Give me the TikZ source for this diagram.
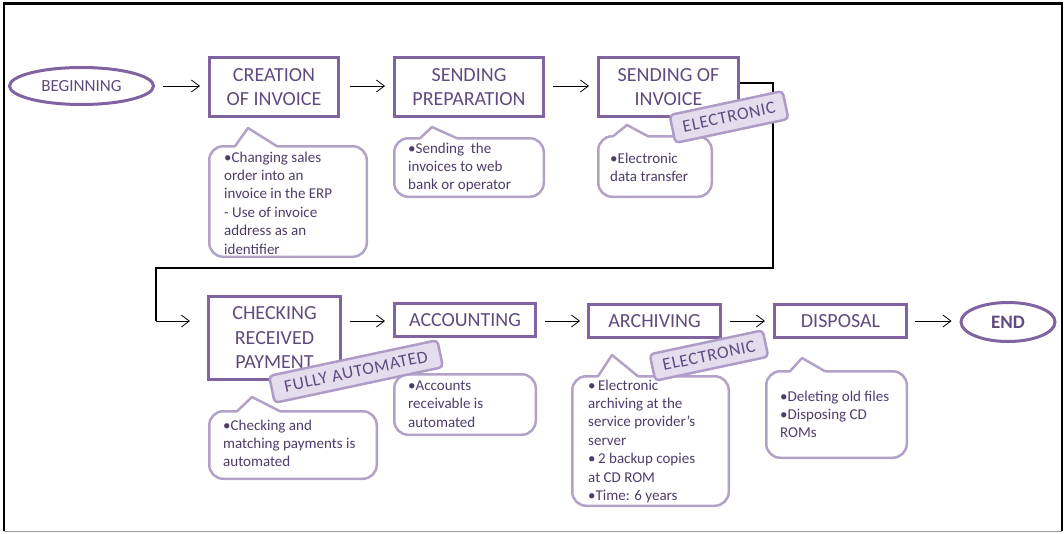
\documentclass[tikz,border=0pt]{standalone}
\usepackage{fontspec}
\setmainfont{Carlito}
\usetikzlibrary{arrows.meta,shapes.geometric,calc}
\definecolor{boxc}{HTML}{8064A2}
\definecolor{txtc}{HTML}{5F4B7F}
\definecolor{callc}{HTML}{B3A2C7}
\definecolor{tagb}{HTML}{AE9CC6}
\definecolor{tagfill}{HTML}{E4DDEE}
\definecolor{ctxt}{HTML}{4E3D6B}
\newcommand\calloutptr[5]{%
  \fill[white] (#1,#5+2.5) -- (#1,#5) -- (#2,#3) -- (#4,#5) -- (#4,#5+2.5) -- cycle;
  \draw[callc, line width=2.5pt, line join=round, line cap=round] (#1,#5) -- (#2,#3) -- (#4,#5);}
\begin{document}
\begin{tikzpicture}[x=1pt,y=-1pt,
  titlebox/.style={draw=boxc, line width=3pt, fill=white, inner sep=0pt, align=center, text=txtc, font=\fontsize{20}{24.5}\selectfont},
  termin/.style={ellipse, draw=boxc, line width=3pt, fill=white, inner sep=0pt, text=txtc},
  callbox/.style={draw=callc, line width=2.5pt, rounded corners=14pt, fill=white, inner sep=0pt},
  ctext/.style={anchor=north west, align=left, text=ctxt, font=\fontsize{15}{18.4}\selectfont, inner sep=0pt},
  tagbox/.style={draw=tagb, fill=tagfill, line width=2.5pt, rounded corners=4pt, inner sep=0pt, rotate=12, text=txtc, font=\fontsize{17.5}{20}\selectfont\addfontfeatures{LetterSpace=4}},
  flow/.style={-{Straight Barb[length=8pt,width=12pt]}, line width=0.8pt, black}]
\useasboundingbox (0,0) rectangle (1064,533);
% frame
\draw[line width=2.5pt] (4,531) -- (4,3.5) -- (1062,3.5) -- (1062,531);
\draw[black!40, line width=1pt] (4,531) -- (1062,531);

% row 1
\node[termin, minimum width=144pt, minimum height=37pt, font=\fontsize{17}{20}\selectfont] (begin) at (81.5,86) {BEGINNING};
\node[titlebox, minimum width=129pt, minimum height=59pt] (creation) at (274,87) {CREATION\\OF INVOICE};
\node[titlebox, minimum width=149pt, minimum height=59pt] (prep) at (469,87) {SENDING\\PREPARATION};
\node[titlebox, minimum width=140pt, minimum height=59pt] (sendinv) at (668.5,87) {SENDING OF\\INVOICE};

% connector
\coordinate (k1) at (773,83);
\coordinate (k2) at (773,268);
\coordinate (k3) at (156,268);
\coordinate (k4) at (156,321);
\draw[line width=1.6pt] (sendinv.east |- k1) -- (k1) -- (k2) -- (k3) -- (k4);

% row 2
\node[titlebox, minimum width=132pt, minimum height=83pt] (check) at (274.5,338) {CHECKING\\RECEIVED\\PAYMENT};
\node[titlebox, minimum width=141pt, minimum height=33pt] (acc) at (465,320) {ACCOUNTING};
\node[titlebox, minimum width=132pt, minimum height=33pt] (arch) at (654.5,321) {ARCHIVING};
\node[titlebox, minimum width=132pt, minimum height=33pt] (disp) at (840.5,321) {DISPOSAL};
\node[termin, minimum width=94pt, minimum height=39pt, font=\fontsize{19}{22}\selectfont\bfseries] (end) at (1008,322) {END};

% callouts
\node[callbox, minimum width=157.5pt, minimum height=110.5pt] (c1) at (288,201.5) {};
\node[callbox, minimum width=149.5pt, minimum height=58.5pt] (c2) at (469,167.5) {};
\node[callbox, minimum width=113.5pt, minimum height=60.5pt] (c3) at (655,166.5) {};
\node[callbox, minimum width=167.5pt, minimum height=67.5pt] (c4) at (293,445) {};
\node[callbox, minimum width=141.5pt, minimum height=60.5pt] (c5) at (465,404.5) {};
\node[callbox, minimum width=156.5pt, minimum height=129.5pt] (c6) at (650.5,441) {};
\node[callbox, minimum width=140.5pt, minimum height=86.5pt] (c7) at (836.5,414.5) {};
\calloutptr{235}{248}{128}{277}{146.25}
\calloutptr{420}{432}{127}{457}{138.25}
\calloutptr{613}{627}{125}{648}{136.25}
\calloutptr{237}{252}{397}{280}{411.25}
\calloutptr{598}{612}{355}{638}{376.25}
\calloutptr{790}{802}{358}{825}{371.25}

\node[ctext] (t1) at (224,151.5) {•Changing sales\\order into an\\invoice in the ERP\\- Use of invoice\\address as an\\identifier};
\node[ctext] (t2) at (408,142.5) {•Sending\ \ the\\invoices to web\\bank or operator};
\node[ctext] (t3) at (610,152.5) {•Electronic\\data transfer};
\node[ctext] (t4) at (223,419.5) {•Checking and\\matching payments is\\automated};
\node[ctext] (t5) at (408,380.5) {•Accounts\\receivable is\\automated};
\node[ctext] (t6) at (588,379.5) {•\,Electronic\\archiving at the\\service provider’s\\server\\•\,2 backup copies\\at CD ROM\\•Time: 6 years};
\node[ctext] (t7) at (780,390.5) {•Deleting old files\\•Disposing CD\\ROMs};

% arrows
\draw[flow, shorten <=8pt, shorten >=8pt] (begin.east) -- (begin.east -| creation.west);
\draw[flow, shorten <=10pt, shorten >=8pt] (creation.east |- begin.east) -- (begin.east -| prep.west);
\draw[flow, shorten <=8pt, shorten >=8pt] (prep.east |- begin.east) -- (begin.east -| sendinv.west);
\draw[flow, shorten >=17pt] (k4) -- (k4 -| check.west);
\draw[flow, shorten <=8pt, shorten >=8pt] (check.east |- k4) -- (k4 -| acc.west);
\draw[flow, shorten <=8pt, shorten >=7pt] (acc.east |- k4) -- (k4 -| arch.west);
\draw[flow, shorten <=8pt, shorten >=8pt] (arch.east |- k4) -- (k4 -| disp.west);
\draw[flow, shorten <=7pt, shorten >=8pt] (disp.east |- k4) -- (k4 -| end.west);

% tags
\node[tagbox, minimum width=115.5pt, minimum height=28.5pt] (tag1) at (729,117) {ELECTRONIC};
\node[tagbox, minimum width=172pt, minimum height=27.5pt] (tag2) at (356,371.5) {FULLY AUTOMATED};
\node[tagbox, minimum width=115.5pt, minimum height=27pt] (tag3) at (709,355.5) {ELECTRONIC};
\end{tikzpicture}
\end{document}
